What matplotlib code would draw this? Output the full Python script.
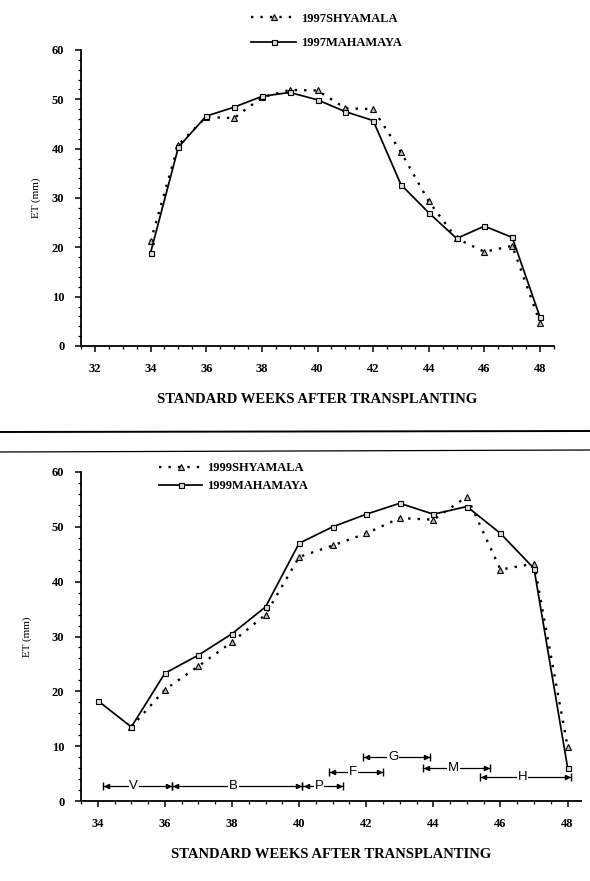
import matplotlib
matplotlib.use("Agg")
import matplotlib.pyplot as plt
from matplotlib.lines import Line2D
from matplotlib.ticker import MultipleLocator

# 1997 data (standard weeks after transplanting vs ET, mm)
weeks_1997 = [34, 35, 36, 37, 38, 39, 40, 41, 42, 43, 44, 45, 46, 47, 48]
shyamala_1997 = [21.2, 40.8, 46.4, 46.2, 50.4, 51.9, 51.8, 48.2, 48.0, 39.3, 29.3, 21.8, 19.1, 20.3, 4.7]
mahamaya_1997 = [18.9, 40.3, 46.6, 48.4, 50.6, 51.4, 49.9, 47.5, 45.7, 32.7, 27.0, 21.8, 24.3, 22.0, 5.8]

# 1999 data
weeks_1999_shy = [35, 36, 37, 38, 39, 40, 41, 42, 43, 44, 45, 46, 47, 48]
shyamala_1999 = [13.5, 20.3, 24.6, 29.0, 34.0, 44.5, 46.6, 48.8, 51.6, 51.3, 55.5, 42.2, 43.3, 9.9]
weeks_1999_mah = [34, 35, 36, 37, 38, 39, 40, 41, 42, 43, 44, 45, 46, 47, 48]
mahamaya_1999 = [18.3, 13.5, 23.3, 26.6, 30.5, 35.4, 47.0, 50.0, 52.3, 54.3, 52.3, 53.7, 48.8, 42.4, 6.1]

# crop growth stages (1999 panel)
stages = ["V", "B", "P", "F", "G", "M", "H"]
stage_start = [34.15, 36.2, 40.1, 40.9, 41.9, 43.7, 45.4]
stage_end = [36.2, 40.1, 41.3, 42.5, 43.9, 45.7, 48.1]
stage_level = [2.7, 2.7, 2.7, 5.3, 8.0, 6.0, 4.3]

labels_1997 = ["1997SHYAMALA", "1997MAHAMAYA"]
labels_1999 = ["1999SHYAMALA", "1999MAHAMAYA"]
xlabel = "STANDARD WEEKS AFTER TRANSPLANTING"

SERIF = ["Liberation Serif", "DejaVu Serif"]
W, H = 590, 881

fig = plt.figure(figsize=(5.9, 8.81), dpi=100)
fig.patch.set_facecolor("white")


def style_axes(ax, xmin, xmax):
    ax.set_xlim(xmin, xmax)
    ax.set_ylim(0, 60)
    for s in ["top", "right"]:
        ax.spines[s].set_visible(False)
    for s in ["left", "bottom"]:
        ax.spines[s].set_linewidth(1.3)
    ax.xaxis.set_major_locator(MultipleLocator(2))
    ax.xaxis.set_minor_locator(MultipleLocator(0.5))
    ax.yaxis.set_major_locator(MultipleLocator(10))
    ax.yaxis.set_minor_locator(MultipleLocator(2))
    ax.tick_params(which="major", direction="out", length=4, width=1.1, pad=8)
    ax.tick_params(which="minor", direction="out", length=2.5, width=0.9)
    for lab in ax.get_xticklabels() + ax.get_yticklabels():
        lab.set_family(SERIF)
        lab.set_fontweight("bold")
        lab.set_fontsize(9)


def draw_series(ax, xs, ys, xm, ym):
    l1, = ax.plot(xs, ys, color="black", ls=(0, (1, 3)), lw=1.7,
                  marker="^", ms=4.5, mfc="#bbbbbb", mec="black", mew=0.8)
    l2, = ax.plot(xm, ym, color="black", ls="-", lw=1.25,
                  marker="s", ms=3.6, mfc="#dddddd", mec="black", mew=0.8)
    return l1, l2


# ---- top panel (1997)
ax1 = fig.add_axes([81 / W, 1 - 346 / H, 473 / W, 296 / H])
style_axes(ax1, 31.5, 48.5)
h1 = draw_series(ax1, weeks_1997, shyamala_1997, weeks_1997, mahamaya_1997)
ax1.set_ylabel("ET (mm)", family=SERIF, fontsize=8, labelpad=8)
ax1.set_xlabel(xlabel, family=SERIF, fontweight="bold", fontsize=10.5, labelpad=13)
fig.legend(h1, labels_1997, loc="center left", bbox_to_anchor=(240 / W, 1 - 31 / H),
           frameon=False, handlelength=3.6, handletextpad=0.4, labelspacing=1.0,
           prop={"family": SERIF, "weight": "bold", "size": 9})

# ---- bottom panel (1999)
ax2 = fig.add_axes([81 / W, 1 - 801 / H, 500 / W, 329 / H])
style_axes(ax2, 33.5, 48.4)
h2 = draw_series(ax2, weeks_1999_shy, shyamala_1999, weeks_1999_mah, mahamaya_1999)
ax2.set_ylabel("ET (mm)", family=SERIF, fontsize=8, labelpad=14)
ax2.set_xlabel(xlabel, family=SERIF, fontweight="bold", fontsize=10.5, labelpad=13)
fig.legend(h2, labels_1999, loc="center left", bbox_to_anchor=(148 / W, 1 - 477 / H),
           frameon=False, handlelength=3.4, handletextpad=0.4, labelspacing=0.5,
           prop={"family": SERIF, "weight": "bold", "size": 9})

# growth stage bars
for name, s, e, lvl in zip(stages, stage_start, stage_end, stage_level):
    ax2.plot([s, e], [lvl, lvl], color="black", lw=0.9)
    ax2.plot([s, e], [lvl, lvl], ls="none", marker="|", ms=6, mew=1.0, color="black")
    ax2.plot([s + 0.12], [lvl], marker="<", ms=3, color="black")
    ax2.plot([e - 0.12], [lvl], marker=">", ms=3, color="black")
    ax2.text((s + e) / 2 - 0.1, lvl, name, ha="center", va="center", fontsize=9.5,
             family=["Liberation Sans", "DejaVu Sans"],
             bbox=dict(facecolor="white", edgecolor="none", pad=0.6))

# divider lines between the two panels
fig.add_artist(Line2D([0, 1], [1 - 432 / H, 1 - 431 / H], transform=fig.transFigure,
                      color="black", lw=1.4))
fig.add_artist(Line2D([0, 1], [1 - 452 / H, 1 - 450 / H], transform=fig.transFigure,
                      color="black", lw=0.9))

fig.savefig("out.png", dpi=100)
